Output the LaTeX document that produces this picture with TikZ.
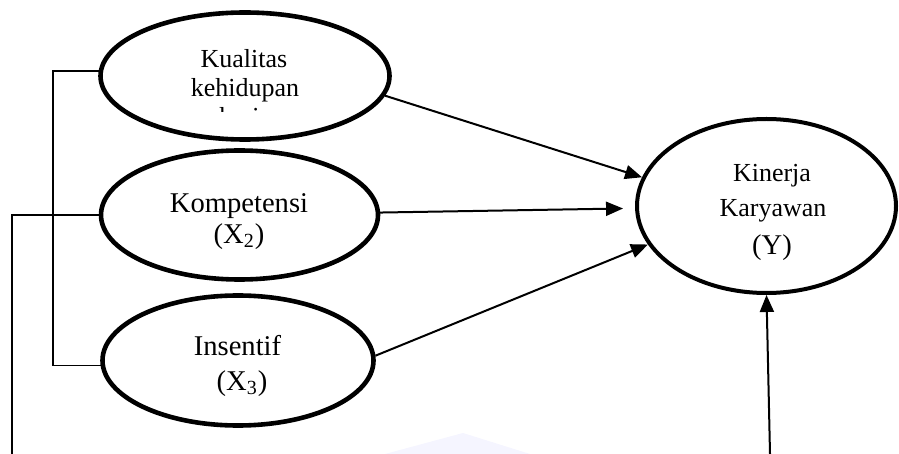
\documentclass[tikz,border=0pt]{standalone}
\usepackage{fontspec}
\setmainfont{Liberation Serif}
\usetikzlibrary{shapes.geometric,arrows.meta}
\begin{document}
\begin{tikzpicture}[x=0.5pt,y=-0.5pt,
  varbox/.style={draw,ellipse,line width=2.3pt,inner sep=0pt},
  lbl/.style={anchor=base,inner sep=0pt,font=\fontsize{13}{15}\selectfont},
  lblbig/.style={anchor=base,inner sep=0pt,font=\fontsize{14.3}{16}\selectfont},
  conn/.style={line width=1pt,-{Triangle[length=8.5pt,width=7pt]}},
  bracketline/.style={line width=0.75pt}]
\useasboundingbox (0,0) rectangle (899,454);
% faint watermark
\fill[blue!40!white,opacity=0.1] (385,454) -- (463,433) -- (530,454) -- cycle;
% ellipses
\node[varbox,minimum width=144.5pt,minimum height=63.5pt] (k1) at (245,76) {};
\node[varbox,minimum width=138.5pt,minimum height=64.5pt] (k2) at (239.5,215) {};
\node[varbox,minimum width=135.5pt,minimum height=65pt] (k3) at (238,360.5) {};
\node[varbox,line width=2pt,minimum width=129.5pt,minimum height=87pt] (y) at (766.5,206) {};
% texts
\node[lbl] (t1a) at (244,68) {Kualitas};
\node[lbl] (t1b) at (245,97) {kehidupan};
\begin{scope}
  \clip (150,100) rectangle (340,112);
  \node[lbl] (t1c) at (245,126) {kerja};
\end{scope}
\node[lblbig] (t2a) at (239,213) {Kompetensi};
\node[lblbig] (t2b) at (239,243) {(X\textsubscript{2})};
\node[lblbig] (t3a) at (237.5,355) {Insentif};
\node[lblbig] (t3b) at (242,390) {(X\textsubscript{3})};
\node[lbl] (tya) at (772,182) {Kinerja};
\node[lbl] (tyb) at (773,217) {Karyawan};
\node[lblbig] (tyc) at (772,255) {(Y)};
% arrows
\draw[conn] (k1.-8) -- (y.167);
\draw[conn,shorten >=6pt] (k2.1) -- (y.181);
\draw[conn] (k3.2.5) -- (y.198);
\coordinate (bot) at (770,454);
\draw[conn] (bot) -- (y.south);
% brackets
\coordinate (bx1) at (53,0);
\draw[bracketline] (k1.178) -- (k1.178 -| bx1) |- (k3.182);
\coordinate (b2end) at (12,454);
\draw[bracketline] (k2.west) -| (b2end);
\end{tikzpicture}
\end{document}
